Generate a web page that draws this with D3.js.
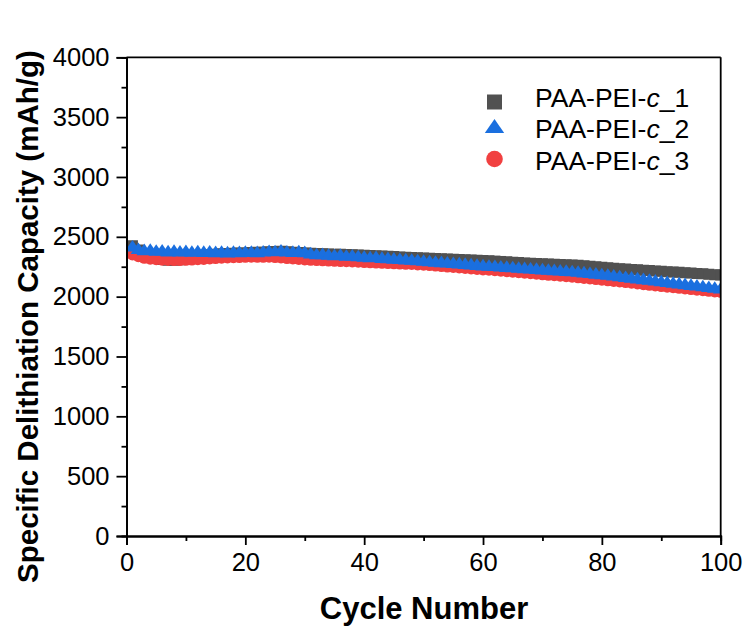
<!DOCTYPE html>
<html>
<head>
<meta charset="utf-8">
<script src="https://cdn.jsdelivr.net/npm/d3@7"></script>
<style>
  html, body { margin: 0; padding: 0; background: #fff; }
  svg { display: block; }
  text { font-family: "Liberation Sans", Arial, sans-serif; fill: #000; }
</style>
</head>
<body>
<svg id="chart" width="747" height="627"></svg>
<script>
// ---------- data ----------
const cycles = d3.range(1, 101);
const xTicks = [0, 20, 40, 60, 80, 100];
const yTicks = [0, 500, 1000, 1500, 2000, 2500, 3000, 3500, 4000];
const seriesNames = ["PAA-PEI-c_1", "PAA-PEI-c_2", "PAA-PEI-c_3"];

const capacity1 = [
  2425, 2390, 2360, 2335, 2320, 2310, 2305, 2305, 2308, 2315,
  2325, 2335, 2345, 2350, 2355, 2358, 2360, 2362, 2365, 2365,
  2368, 2370, 2372, 2375, 2378, 2380, 2375, 2372, 2368, 2365,
  2362, 2360, 2358, 2357, 2355, 2354, 2352, 2350, 2348, 2346,
  2344, 2342, 2340, 2337, 2335, 2332, 2330, 2327, 2325, 2322,
  2320, 2318, 2316, 2314, 2312, 2310, 2308, 2306, 2304, 2302,
  2300, 2297, 2294, 2291, 2288, 2285, 2282, 2280, 2278, 2275,
  2273, 2271, 2269, 2267, 2265, 2262, 2258, 2254, 2250, 2246,
  2242, 2238, 2234, 2230, 2227, 2224, 2221, 2218, 2215, 2212,
  2209, 2206, 2203, 2200, 2197, 2194, 2191, 2188, 2184, 2180
];
const capacity2 = [
  2425, 2405, 2395, 2398, 2390, 2392, 2385, 2390, 2383, 2387,
  2382, 2386, 2380, 2384, 2378, 2382, 2376, 2380, 2378, 2382,
  2380, 2378, 2384, 2388, 2386, 2392, 2384, 2380, 2386, 2378,
  2368, 2360, 2362, 2356, 2352, 2355, 2348, 2350, 2344, 2340,
  2335, 2337, 2330, 2328, 2324, 2321, 2318, 2314, 2310, 2306,
  2302, 2298, 2295, 2291, 2288, 2284, 2280, 2276, 2272, 2268,
  2265, 2262, 2258, 2255, 2252, 2248, 2245, 2241, 2238, 2234,
  2231, 2228, 2225, 2222, 2219, 2214, 2209, 2204, 2199, 2194,
  2189, 2183, 2177, 2171, 2165, 2159, 2153, 2147, 2141, 2135,
  2129, 2123, 2117, 2111, 2105, 2099, 2093, 2087, 2081, 2075
];
const capacity3 = [
  2350, 2335, 2322, 2315, 2310, 2306, 2304, 2303, 2303, 2305,
  2307, 2310, 2313, 2317, 2320, 2323, 2325, 2327, 2328, 2330,
  2331, 2330, 2330, 2331, 2328, 2325, 2320, 2316, 2312, 2308,
  2305, 2303, 2301, 2299, 2297, 2295, 2293, 2291, 2289, 2286,
  2284, 2282, 2280, 2278, 2276, 2274, 2272, 2270, 2267, 2264,
  2261, 2257, 2253, 2249, 2245, 2241, 2237, 2233, 2229, 2225,
  2222, 2218, 2214, 2210, 2206, 2202, 2198, 2194, 2189, 2184,
  2180, 2176, 2172, 2168, 2164, 2159, 2154, 2149, 2144, 2139,
  2134, 2129, 2124, 2119, 2114, 2108, 2102, 2096, 2091, 2086,
  2081, 2076, 2071, 2066, 2061, 2056, 2051, 2046, 2041, 2036
];

// ---------- layout ----------
const svg = d3.select("#chart");
const L = 126.5, R = 720.7, T = 57.3, B = 536;
const x = d3.scaleLinear().domain([0, 100]).range([L, R]);
const y = d3.scaleLinear().domain([0, 4000]).range([B, T]);

const colors = ["#515151", "#1A6FDF", "#F14040"];
const plotShapes = [
  d3.symbol().type(d3.symbolSquare).size(11 * 11)(),
  "M0,-5.8L7.8,5.8L-7.8,5.8Z",
  d3.symbol().type(d3.symbolCircle).size(Math.PI * 5.7 * 5.7)()
];
const legendShapes = [
  d3.symbol().type(d3.symbolSquare).size(225)(),
  "M0,-7L9.7,7L-9.7,7Z",
  d3.symbol().type(d3.symbolCircle).size(Math.PI * 8.3 * 8.3)()
];

svg.append("clipPath").attr("id", "plotclip")
  .append("rect").attr("x", L).attr("y", T).attr("width", R - L).attr("height", B - T);

const series = [capacity1, capacity2, capacity3];
const drawOrder = [0, 2, 1];
const plot = svg.append("g").attr("clip-path", "url(#plotclip)");
drawOrder.forEach(i => {
  plot.append("g").selectAll("path")
    .data(cycles.map((c, k) => [c, series[i][k]]))
    .join("path")
    .attr("d", plotShapes[i])
    .attr("fill", colors[i])
    .attr("transform", d => `translate(${x(d[0])},${y(d[1])})`);
});

// ---------- axes ----------
const axisW = 1.8;
svg.append("line").attr("x1", L).attr("x2", R).attr("y1", T).attr("y2", T)
  .attr("stroke", "#000").attr("stroke-width", axisW);
svg.append("line").attr("x1", R).attr("x2", R).attr("y1", T).attr("y2", B)
  .attr("stroke", "#000").attr("stroke-width", axisW);

const xAxis = d3.axisBottom(x).tickValues(xTicks).tickSize(9).tickPadding(8).tickFormat(d3.format("d"));
const xMinor = d3.axisBottom(x).tickValues([10, 30, 50, 70, 90]).tickSize(5).tickFormat("");
const yAxis = d3.axisLeft(y).tickValues(yTicks).tickSize(10).tickPadding(7).tickFormat(d3.format("d"));
const yMinor = d3.axisLeft(y).tickValues(d3.range(250, 4000, 500)).tickSize(5).tickFormat("");

function styleAxis(g) {
  g.selectAll(".domain").attr("stroke", "#000").attr("stroke-width", axisW);
  g.selectAll(".tick line").attr("stroke", "#000").attr("stroke-width", axisW);
  g.selectAll("text").attr("font-family", "'Liberation Sans', Arial, sans-serif")
    .attr("font-size", 25.5).attr("fill", "#000");
}
svg.append("g").attr("transform", `translate(0,${B})`).call(xMinor).call(styleAxis);
svg.append("g").attr("transform", `translate(0,${B})`).call(xAxis).call(styleAxis);
svg.append("g").attr("transform", `translate(${L},0)`).call(yMinor).call(styleAxis);
svg.append("g").attr("transform", `translate(${L},0)`).call(yAxis).call(styleAxis);

// titles
svg.append("text").attr("x", 424).attr("y", 619)
  .attr("text-anchor", "middle").attr("font-weight", "bold").attr("font-size", 31)
  .text("Cycle Number");
svg.append("text")
  .attr("transform", `translate(38,${(L + R) / 2 - 107}) rotate(-90)`)
  .attr("text-anchor", "middle").attr("font-weight", "bold").attr("font-size", 29.5)
  .text("Specific Delithiation Capacity (mAh/g)");

// ---------- legend ----------
const legendSym = [[494.5, 102], [494.5, 126], [494.5, 159]];
const legendText = [107, 138, 169.5];
seriesNames.forEach((name, i) => {
  svg.append("path").attr("d", legendShapes[i]).attr("fill", colors[i])
    .attr("transform", `translate(${legendSym[i][0]},${legendSym[i][1]})`);
  const parts = name.split("c_");
  const t = svg.append("text").attr("x", 535).attr("y", legendText[i]).attr("font-size", 26.5);
  t.append("tspan").text(parts[0]);
  t.append("tspan").attr("font-style", "italic").text("c");
  t.append("tspan").text("_" + parts[1]);
});
</script>
</body>
</html>
